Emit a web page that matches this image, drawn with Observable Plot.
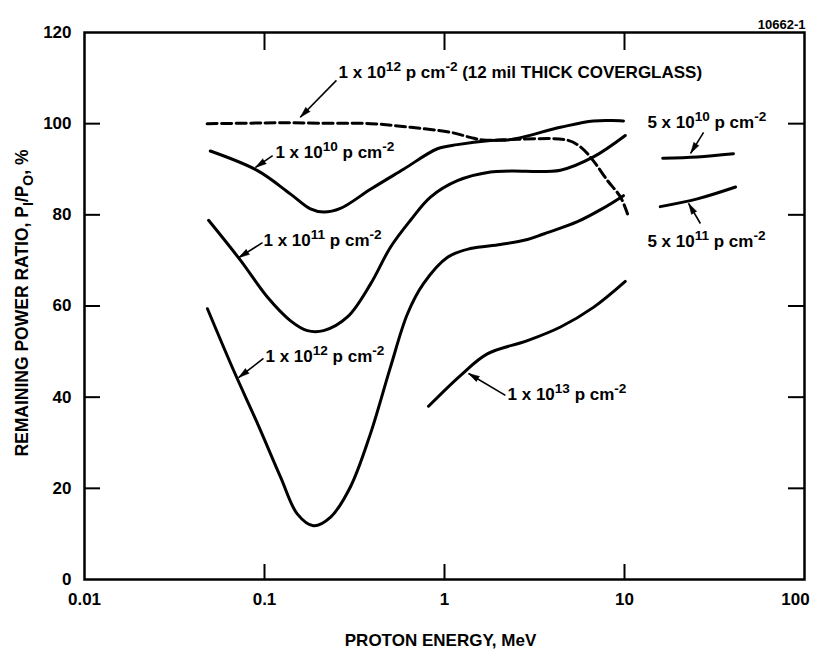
<!DOCTYPE html>
<html><head><meta charset="utf-8">
<script src="https://cdn.jsdelivr.net/npm/d3@7"></script>
<script src="https://cdn.jsdelivr.net/npm/@observablehq/plot@0.6"></script>
<style>html,body{margin:0;padding:0;background:#fff;} #chart svg{display:block;overflow:visible;}</style>
</head><body><div id="chart"></div>
<script>
// ---- data: [proton energy (MeV), remaining power ratio (%)] ----
const coverglass1e12 = [[0.048,100.0],[0.08,100.1],[0.12,100.2],[0.2,100.1],[0.39,100.0],[0.65,99.2],[1.08,98.1],[1.39,97.0],[1.65,96.4],[2.6,96.6],[4.8,96.4],[5.7,94.9],[6.7,91.9],[8.05,87.5],[9.5,83.9],[10.4,80.2]];
const fluence1e10 = [[0.050,94.0],[0.0915,89.7],[0.139,84.6],[0.180,81.3],[0.213,80.6],[0.264,81.4],[0.388,85.6],[0.592,90.0],[0.914,94.5],[1.18,95.4],[1.8,96.3],[2.33,96.5],[4.41,99.2],[6.72,100.6],[9.87,100.6]];
const fluence1e11 = [[0.0489,78.8],[0.0736,70.0],[0.104,61.9],[0.139,56.8],[0.173,54.6],[0.213,54.6],[0.289,57.6],[0.388,64.8],[0.501,72.9],[0.647,78.8],[0.836,83.9],[1.18,87.5],[1.8,89.4],[2.33,89.6],[4.41,89.8],[6.72,92.7],[10.1,97.4]];
const fluence1e12 = [[0.0482,59.4],[0.0673,45.9],[0.0915,34.2],[0.123,22.4],[0.152,14.4],[0.187,11.8],[0.233,13.7],[0.300,20.3],[0.388,32.0],[0.501,46.6],[0.623,58.3],[0.764,64.9],[1.04,70.7],[1.39,72.6],[2.05,73.5],[2.89,74.6],[3.55,75.8],[5.48,78.5],[7.5,81.3],[9.87,84.2]];
const fluence1e13 = [[0.815,38.0],[1.23,44.8],[1.73,49.5],[2.89,52.4],[4.41,55.4],[6.72,59.7],[10.1,65.4]];
const fluence5e10 = [[16.3,92.4],[25.4,92.7],[40.3,93.4]];
const fluence5e11 = [[15.8,81.8],[25.4,83.5],[41.4,86.1]];

// ---- axes ----
const xTicks = [0.01, 0.1, 1, 10, 100];
const xTickLabels = ["0.01", "0.1", "1", "10", "100"];
const yTicks = [0, 20, 40, 60, 80, 100, 120];
const xTitle = "PROTON ENERGY, MeV";
const yTitle = "REMAINING POWER RATIO, P_{I}/P_{O}, %";
const figureId = "10662-1";

// ---- annotations (data coordinates) ----
const labelText = [
  "1 x 10^{12} p cm^{-2} (12 mil THICK COVERGLASS)",
  "1 x 10^{10} p cm^{-2}",
  "1 x 10^{11} p cm^{-2}",
  "1 x 10^{12} p cm^{-2}",
  "1 x 10^{13} p cm^{-2}",
  "5 x 10^{10} p cm^{-2}",
  "5 x 10^{11} p cm^{-2}"
];
const labelEnergy = [0.258, 0.115, 0.0987, 0.1013, 2.24, 13.4, 13.4];
const labelRatio  = [111.2, 93.7, 74.4, 48.9, 40.6, 100.3, 74.2];
const arrowFromE = [0.251, 0.111, 0.0975, 0.0987, 2.18, 27.5, 26.4];
const arrowFromR = [109.5, 93.0, 73.9, 48.5, 40.4, 98.1, 78.1];
const arrowToE   = [0.158, 0.0891, 0.0718, 0.0718, 1.36, 23.3, 22.7];
const arrowToR   = [101.4, 90.4, 70.6, 44.3, 45.2, 93.5, 82.5];

// ---- layout ----
const W = 815, H = 665;
const M = {top: 32, right: 11, bottom: 86, left: 84};
const plotW = W - M.left - M.right, plotH = H - M.top - M.bottom;
const FONT = "'Liberation Sans', Arial, Helvetica, sans-serif";

const base = {
  width: W, height: H,
  marginTop: M.top, marginRight: M.right, marginBottom: M.bottom, marginLeft: M.left,
  x: {type: "log", domain: [xTicks[0], xTicks[xTicks.length - 1]]},
  y: {domain: [yTicks[0], yTicks[yTicks.length - 1]]},
  style: {fontFamily: FONT, fontWeight: "bold", fontSize: "17px", color: "black", background: "white"}
};

// probe plot to get the library's scales for arrowhead angles
const probe = Plot.plot({...base, marks: [Plot.frame()]});
const sx = v => probe.scale("x").apply(v);
const sy = v => probe.scale("y").apply(v);
const idx = labelText.map((_, i) => i);
const heads = idx.map(i => {
  const dx = sx(arrowToE[i]) - sx(arrowFromE[i]);
  const dy = sy(arrowToR[i]) - sy(arrowFromR[i]);
  return {e: arrowToE[i], r: arrowToR[i], angle: Math.atan2(dx, -dy) * 180 / Math.PI};
});

const innerX = xTicks.slice(1, -1);
const innerY = yTicks.slice(1, -1);
const fmtX = d => xTickLabels[xTicks.indexOf(d)];
const solid = {x: d => d[0], y: d => d[1], curve: "catmull-rom", stroke: "black", strokeWidth: 3};

const plot = Plot.plot({
  ...base,
  marks: [
    Plot.axisX({ticks: xTicks.slice(0, -1), tickFormat: fmtX, tickSize: 0, tickPadding: 13, label: null, fontSize: 17}),
    Plot.axisX({ticks: xTicks.slice(-1), tickFormat: fmtX, tickSize: 0, tickPadding: 13, label: null, fontSize: 17, dx: -9}),
    Plot.axisY({ticks: yTicks, tickSize: 0, tickPadding: 13, label: null, fontSize: 17}),
    Plot.tickX(innerX, {x: d => d, insetTop: plotH - 15, strokeWidth: 2}),
    Plot.tickX(innerX, {x: d => d, insetBottom: plotH - 18, strokeWidth: 2}),
    Plot.tickY(innerY, {y: d => d, insetRight: plotW - 16, strokeWidth: 2}),
    Plot.tickY(innerY, {y: d => d, insetLeft: plotW - 16, strokeWidth: 2}),
    Plot.frame({stroke: "black", strokeWidth: 2.5}),
    Plot.line(coverglass1e12, {...solid, strokeDasharray: "10,4.5"}),
    Plot.line(fluence1e10, solid),
    Plot.line(fluence1e11, solid),
    Plot.line(fluence1e12, solid),
    Plot.line(fluence1e13, solid),
    Plot.line(fluence5e10, solid),
    Plot.line(fluence5e11, solid),
    Plot.link(idx, {x1: i => arrowFromE[i], y1: i => arrowFromR[i], x2: i => arrowToE[i], y2: i => arrowToR[i], stroke: "black", strokeWidth: 1.6}),
    Plot.vector(heads, {x: "e", y: "r", rotate: "angle", length: 11, anchor: "end", shape: "spike", r: 3, fill: "black", stroke: "black", strokeWidth: 0.5}),
    Plot.text(idx, {x: i => labelEnergy[i], y: i => labelRatio[i], text: i => labelText[i], textAnchor: "start", fontSize: 17, fontWeight: "bold"}),
    Plot.text([xTitle], {frameAnchor: "bottom", textAnchor: "middle", lineAnchor: "middle", dy: 61, dx: -4, fontSize: 17, fontWeight: "bold"}),
    Plot.text([yTitle], {frameAnchor: "left", textAnchor: "middle", rotate: -90, dx: -62, dy: -3, fontSize: 17.5, fontWeight: "bold"}),
    Plot.text([figureId], {frameAnchor: "top-right", lineAnchor: "middle", dx: 1, dy: -8, textAnchor: "end", fontSize: 13, fontWeight: "bold"})
  ]
});

document.getElementById("chart").appendChild(plot);

// rich text: ^{...} superscript, _{...} subscript
function richify(svg) {
  d3.select(svg).selectAll("text").each(function() {
    const t = this.textContent;
    if (!/[\^_]\{/.test(t)) return;
    const fs = parseFloat(getComputedStyle(this).fontSize) || 17;
    const parts = [];
    const re = /(\^|_)\{([^}]*)\}/g;
    let last = 0, m;
    while ((m = re.exec(t))) {
      if (m.index > last) parts.push({s: t.slice(last, m.index), k: 0});
      parts.push({s: m[2], k: m[1] === "^" ? 1 : -1});
      last = re.lastIndex;
    }
    if (last < t.length) parts.push({s: t.slice(last), k: 0});
    this.textContent = "";
    let cur = 0;
    const el = d3.select(this);
    for (const p of parts) {
      const target = p.k === 1 ? -0.42 * fs : p.k === -1 ? 0.3 * fs : 0;
      const ts = el.append("tspan").text(p.s);
      if (target !== cur) ts.attr("dy", target - cur);
      if (p.k !== 0) ts.attr("font-size", (0.8 * fs).toFixed(1));
      cur = target;
    }
  });
}
richify(plot);
</script>
</body></html>
